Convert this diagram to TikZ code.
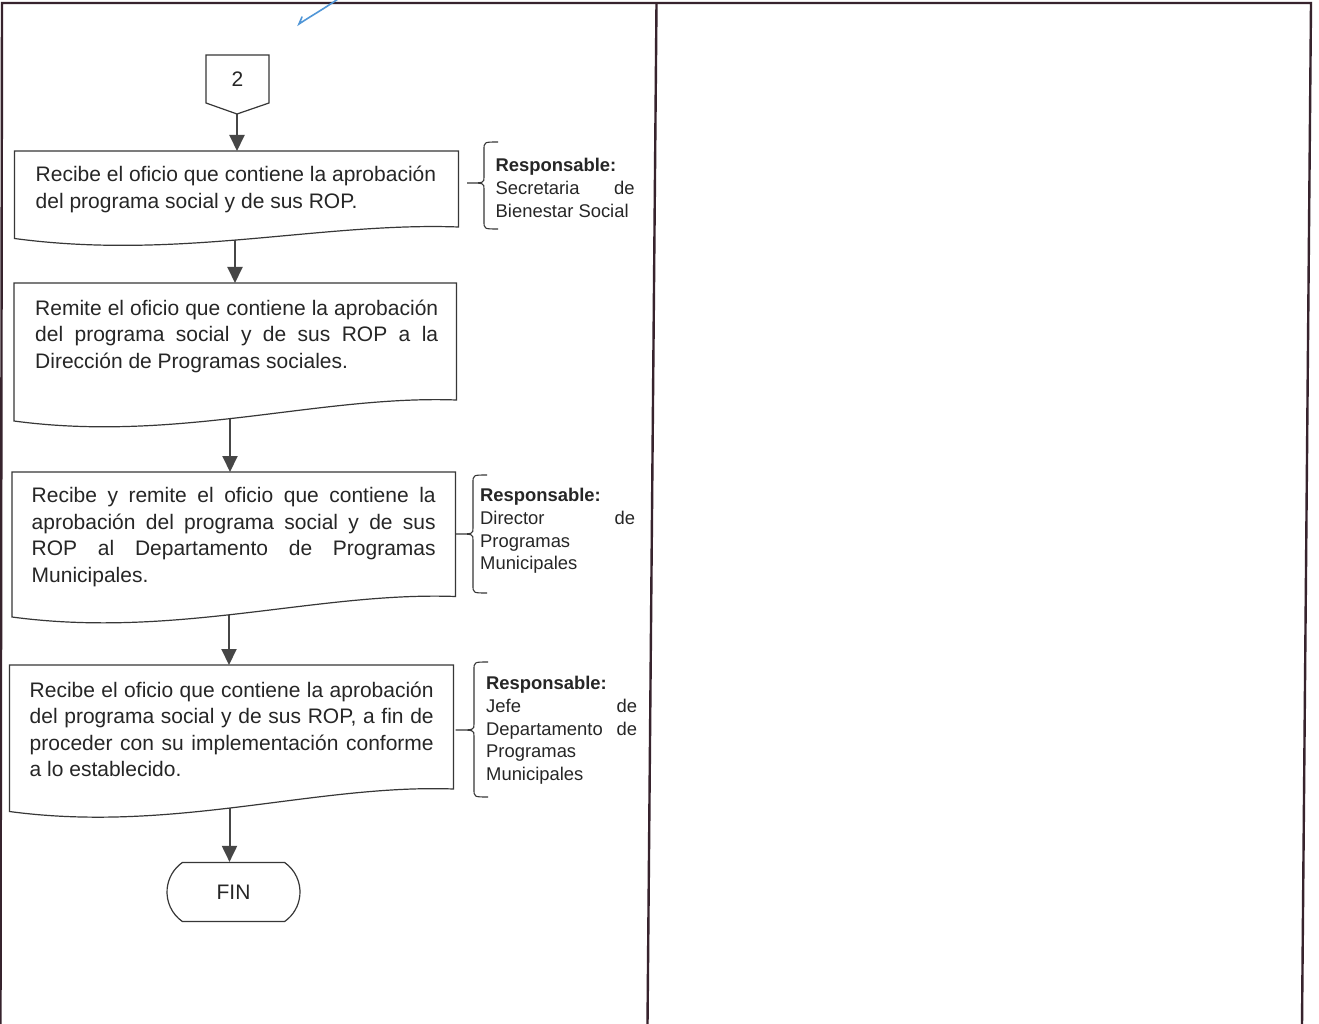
\documentclass[tikz,border=0pt]{standalone}
\usepackage{fontspec}
\setmainfont{Liberation Sans}
\usetikzlibrary{arrows.meta,shapes.misc}
\definecolor{framec}{RGB}{55,35,45}
\definecolor{linec}{RGB}{55,55,55}
\definecolor{arrowc}{RGB}{70,70,70}
\definecolor{penc}{RGB}{80,150,215}
\tikzset{
  frameline/.style={draw=framec, line width=2.4pt},
  docshape/.style={draw=linec, line width=1.2pt, fill=white},
  flowarrow/.style={draw=arrowc, line width=2pt, -{Triangle[length=16pt,width=15pt]}},
  braceline/.style={draw=linec, line width=1.1pt},
  maintext/.style={anchor=base west, inner sep=0pt, text=black!85, font=\fontsize{21}{26.5}\selectfont},
  resptext/.style={anchor=base west, inner sep=0pt, text=black!85, font=\fontsize{18.4}{22.8}\selectfont},
}
% L, R, top, left-bottom, right-bottom
\newcommand\flowdoc[5]{%
  \draw[docshape] (#1,#3) -- (#2,#3) -- (#2,#5)
    .. controls ({#1+0.69*(#2-#1)},{#5-5}) and ({#1+0.37*(#2-#1)},{#4+22}) .. (#1,#4) -- cycle;}
% x, top, bottom, mid, left end of tick
\newcommand\respbrace[5]{%
  \draw[braceline] ({#1+14},#2) .. controls (#1,#2) .. (#1,{#2+8}) -- (#1,{#4-6})
    .. controls (#1,#4) .. (#5,#4)
    (#5,#4) .. controls (#1,#4) .. (#1,{#4+6}) -- (#1,{#3-8})
    .. controls (#1,#3) .. ({#1+14},#3);}
\begin{document}
\begin{tikzpicture}[x=1pt,y=-1pt]
\useasboundingbox (0,0) rectangle (1319,1024);
\fill[white] (0,0) rectangle (1319,1024);

% frame
\draw[frameline] (0.5,1024) -- (2,3) -- (1311,3) -- (1302,1024);
\draw[frameline] (656.5,3) -- (647.5,1024);

% pen mark
\draw[penc, line width=1.6pt, line cap=round] (338,-1) .. controls (322,10) and (311,16) .. (299,24) -- (302,17);

% named coordinates for connectors
\coordinate (c2tip) at (237,114);
\coordinate (b1n) at (237,151);
\coordinate (b1s) at (235,225);
\coordinate (b2n) at (235,283);
\coordinate (b2s) at (230,405);
\coordinate (b3n) at (230,472);
\coordinate (b3s) at (229,600);
\coordinate (b4n) at (229,665);
\coordinate (b4s) at (229.5,795);

% end terminal
\node[draw=linec, line width=1.2pt, rounded rectangle, rounded rectangle arc length=110,
      minimum width=133pt, minimum height=59pt, inner sep=0pt, text=black!85,
      font=\fontsize{21}{25}\selectfont] (fin) at (233.5,892) {FIN};

% connectors
\draw[flowarrow] (c2tip) -- (b1n);
\draw[flowarrow] (b1s) -- (b2n);
\draw[flowarrow] (b2s) -- (b3n);
\draw[flowarrow] (b3s) -- (b4n);
\draw[flowarrow] (b4s) -- (b4s |- fin.north);

% off-page connector
\draw[docshape] (206,55) -- (269,55) -- (269,103) -- (c2tip) -- (206,103) -- cycle;
\node[inner sep=0pt, text=black!85, font=\fontsize{21}{25}\selectfont] (n2) at (237.5,79) {2};

% process boxes
\flowdoc{14.5}{458.5}{151}{238.5}{227}
\flowdoc{14}{456.5}{283}{421}{400}
\flowdoc{12}{455.5}{472}{617}{596.5}
\flowdoc{9.5}{453.5}{665}{811.5}{789}

\node[maintext] (t1) at (35.5,182) {\parbox[t]{404pt}{Recibe el oficio que contiene la aprobación\\del programa social y de sus ROP.}};
\node[maintext] (t2) at (35,315) {\parbox[t]{403pt}{\makebox[403pt][s]{Remite el oficio que contiene la aprobación}\\\makebox[403pt][s]{del programa social y de sus ROP a la}\\Dirección de Programas sociales.}};
\node[maintext] (t3) at (31.5,502.5) {\parbox[t]{404pt}{\makebox[404pt][s]{Recibe y remite el oficio que contiene la}\\\makebox[404pt][s]{aprobación del programa social y de sus}\\\makebox[404pt][s]{ROP al Departamento de Programas}\\Municipales.}};
\node[maintext] (t4) at (29.5,697) {\parbox[t]{404pt}{\makebox[404pt][s]{Recibe el oficio que contiene la aprobación}\\\makebox[404pt][s]{del programa social y de sus ROP, a fin de}\\\makebox[404pt][s]{proceder con su implementación conforme}\\a lo establecido.}};

% responsibles
\respbrace{484}{142}{229}{183}{467}
\respbrace{473}{475}{593}{534}{455.5}
\respbrace{474}{662}{797}{730}{455.5}

\node[resptext] (r1) at (495.5,171.5) {\parbox[t]{139pt}{\textbf{Responsable:}\\\makebox[139pt][s]{Secretaria de}\\Bienestar Social}};
\node[resptext] (r2) at (480,501.5) {\parbox[t]{155pt}{\textbf{Responsable:}\\\makebox[155pt][s]{Director de}\\Programas\\Municipales}};
\node[resptext] (r3) at (486,689.5) {\parbox[t]{151pt}{\textbf{Responsable:}\\\makebox[151pt][s]{Jefe de}\\\makebox[151pt][s]{Departamento de}\\Programas\\Municipales}};
\end{tikzpicture}
\end{document}
